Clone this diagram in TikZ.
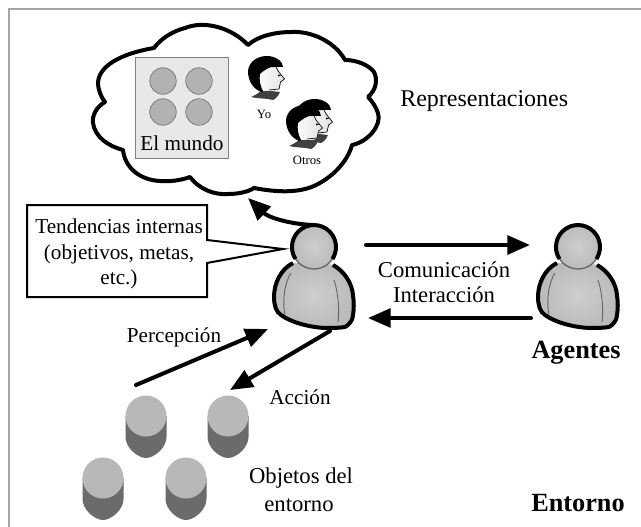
\documentclass[tikz,border=0pt]{standalone}
\usepackage{fontspec}
\setmainfont{Liberation Serif}
\usetikzlibrary{arrows.meta,calc}
\tikzset{
  px/.style={x=0.75pt,y=-0.75pt},
  flow/.style={line width=3pt,draw=black,line cap=round,-{Triangle[length=17pt,width=14pt]},shorten >=0pt},
  heavy/.style={line width=3pt,draw=black,line join=round},
  txt/.style={font=\fontsize{15.9}{19}\selectfont,inner sep=0pt,align=center},
  bigtxt/.style={font=\fontsize{17}{20}\selectfont,inner sep=0pt,align=center},
  small/.style={font=\fontsize{9.5}{11}\selectfont,inner sep=0pt},
  strong/.style={font=\fontsize{19.7}{22}\selectfont\bfseries,inner sep=0pt},
  skin/.style={inner color=black!19,outer color=black!27},
  ball/.style={circle,draw=black!55,line width=0.5pt,fill=black!30,minimum size=26.5*0.75pt,inner sep=0pt},
}
\newcommand{\personfig}[2]{%
  \begin{scope}[shift={(#1,#2)}]
    \fill[skin] (-21,16) .. controls (-33,22) and (-40,36) .. (-40,50)
      .. controls (-40,58) and (-38,65) .. (-33,68)
      .. controls (-25,74) and (-8,80) .. (11,81)
      .. controls (18,81) and (25,81) .. (31,80)
      .. controls (35,78) and (39,73) .. (39,68)
      .. controls (40,62) and (40,55) .. (39,48)
      .. controls (38,36) and (30,24) .. (19,18) -- cycle;
    \draw[heavy] (-21,16) .. controls (-33,22) and (-40,36) .. (-40,50)
      .. controls (-40,58) and (-38,65) .. (-33,68)
      .. controls (-25,74) and (-8,80) .. (11,81)
      .. controls (18,81) and (25,81) .. (31,80)
      .. controls (35,78) and (39,73) .. (39,68)
      .. controls (40,62) and (40,55) .. (39,48)
      .. controls (38,36) and (30,24) .. (19,18);
    \draw[black!60,line width=0.7pt] (-23,26) .. controls (-29,35) and (-32,52) .. (-29,68);
    \draw[black!60,line width=0.7pt] (20,33) .. controls (23,42) and (26,58) .. (24,75);
    \shade[skin] (0,0) circle (22);
    \draw[black!60,line width=1pt] (0,0) circle (22);
    \draw[heavy] (-18.5,12) arc[start angle=147,end angle=393,radius=22];
  \end{scope}}
\newcommand{\headfig}[2]{%
  \begin{scope}[shift={(#1,#2)}]
    \fill[black!75] (3,41) .. controls (10,38) and (13,35) .. (14,34) -- (32,36)
      .. controls (30,41) and (27,43) .. (25,44) .. controls (18,42) and (10,43) .. (3,41) -- cycle;
    \shade[left color=white,right color=black!12] (8,16) -- (26,8) -- (33,17) -- (37,23) -- (33,27) -- (31,33) -- (27,35) -- (14,35) -- (8,30) -- cycle;
    \draw[black,line width=0.5pt] (27,9) -- (30,15) -- (36.5,23) -- (32.5,26) -- (31,33) -- (21,34);
    \fill[black] (13,36) .. controls (6,33) and (0,26) .. (0,15)
      .. controls (1,5) and (10,0) .. (19,0)
      .. controls (27,0) and (35,5) .. (35,11) -- (26,11)
      .. controls (22,10) and (15,15) .. (12,18)
      .. controls (11,23) and (12,30) .. (15,35) -- cycle;
    \fill[black] (30,18.5) -- (33,19.5) -- (30,20.5) -- cycle;
  \end{scope}}
\newcommand{\drumfig}[1]{%
  \fill[black!58] ($(#1)+(-20.5,0)$) -- ($(#1)+(-20.5,21)$)
    .. controls ($(#1)+(-20.5,32)$) and ($(#1)+(-8,42)$) .. ($(#1)+(0,42)$)
    .. controls ($(#1)+(8,42)$) and ($(#1)+(20.5,32)$) .. ($(#1)+(20.5,21)$)
    -- ($(#1)+(20.5,0)$) -- cycle;
  \fill[black!28] (#1) circle (20.5);}
\begin{document}
\begin{tikzpicture}[px]
\useasboundingbox (0,0) rectangle (641,527);
\fill[white] (0,0) rectangle (641,527);
\draw[black!35,line width=1.5pt] (8.5,527) -- (8.5,9.5) -- (641,9.5);

% thought cloud
\draw[heavy,fill=white] (248,45)
  .. controls (232,28) and (205,20) .. (185,28)
  .. controls (170,32) and (160,40) .. (154,48)
  .. controls (130,52) and (100,62) .. (98,82)
  .. controls (98,90) and (101,97) .. (105,102)
  .. controls (96,107) and (92,116) .. (93,123)
  .. controls (95,137) and (108,146) .. (123,150)
  .. controls (125,168) and (140,180) .. (160,181)
  .. controls (170,182) and (182,180) .. (190,177)
  .. controls (200,190) and (215,195) .. (228,194)
  .. controls (238,194) and (248,192) .. (254,188)
  .. controls (275,192) and (300,194) .. (318,184)
  .. controls (335,175) and (348,160) .. (352,145)
  .. controls (368,142) and (382,125) .. (378,113)
  .. controls (376,107) and (372,101) .. (368,97)
  .. controls (376,90) and (378,80) .. (374,72)
  .. controls (368,64) and (355,60) .. (345,60)
  .. controls (335,42) and (312,31) .. (292,32)
  .. controls (275,32) and (258,36) .. (248,45) -- cycle;

% world panel
\node[draw=black!50,fill=black!9,line width=0.6pt,minimum width=69.75pt,minimum height=75.75pt,inner sep=0pt] (world) at (181.5,107.5) {};
\node[ball] (b1) at (163,81) {};
\node[ball] (b2) at (199,81) {};
\node[ball] (b3) at (163,112) {};
\node[ball] (b4) at (199,112) {};
\node[txt] (mundo) at (182,143) {El mundo};

\headfig{248}{56}
\node[small] (yo) at (264,114) {Yo};
\headfig{296}{99}
\headfig{286}{105}
\node[small] (otros) at (307,160) {Otros};

\node[font=\fontsize{18}{21}\selectfont,inner sep=0pt,anchor=west] (repr) at (400,101) {Representaciones};

% persons
\personfig{314}{247}
\personfig{578}{247}
\coordinate (selfTop) at (313,225);
\coordinate (cloudFoot) at (248,198);
\coordinate (selfOutA) at (366,245);
\coordinate (otherInA) at (530,245);
\coordinate (otherOutB) at (531,318);
\coordinate (selfInB) at (368,318);
\coordinate (objOut) at (136,385);
\coordinate (selfIn) at (268,329);
\coordinate (selfOut) at (330,331);
\coordinate (objIn) at (230,390);

% callout
\draw[line width=1.5pt,fill=white,line join=miter] (27,205) -- (207,205) -- (207,240) -- (283,249) -- (207,263) -- (207,297) -- (27,297) -- cycle;
\node[txt] (t1) at (119,226) {Tendencias internas};
\node[txt] (t2) at (119,254) {(objetivos, metas,};
\node[txt] (t3) at (119,279) {etc.)};

% connectors
\draw[flow] (selfTop) .. controls (288,224) and (268,217) .. (cloudFoot);
\draw[flow] (selfOutA) -- (otherInA);
\draw[flow] (otherOutB) -- (selfInB);
\draw[flow] (objOut) -- (selfIn);
\draw[flow] (selfOut) -- (objIn);

\node[bigtxt] (com) at (444,270) {Comunicación};
\node[bigtxt] (int) at (444,295) {Interacción};
\node[txt] (perc) at (174,337) {Percepción};
\node[txt] (acc) at (300,397) {Acción};
\node[bigtxt] (obj1) at (301,478) {Objetos del};
\node[bigtxt] (obj2) at (299,505) {entorno};
\node[strong] (ag) at (576,353) {Agentes};
\node[strong] (ent) at (578,503) {Entorno};

% objects
\coordinate (d1) at (146,416);
\coordinate (d2) at (228,416);
\coordinate (d3) at (103,478);
\coordinate (d4) at (186,478);
\drumfig{d1}
\drumfig{d2}
\drumfig{d3}
\drumfig{d4}
\end{tikzpicture}
\end{document}
